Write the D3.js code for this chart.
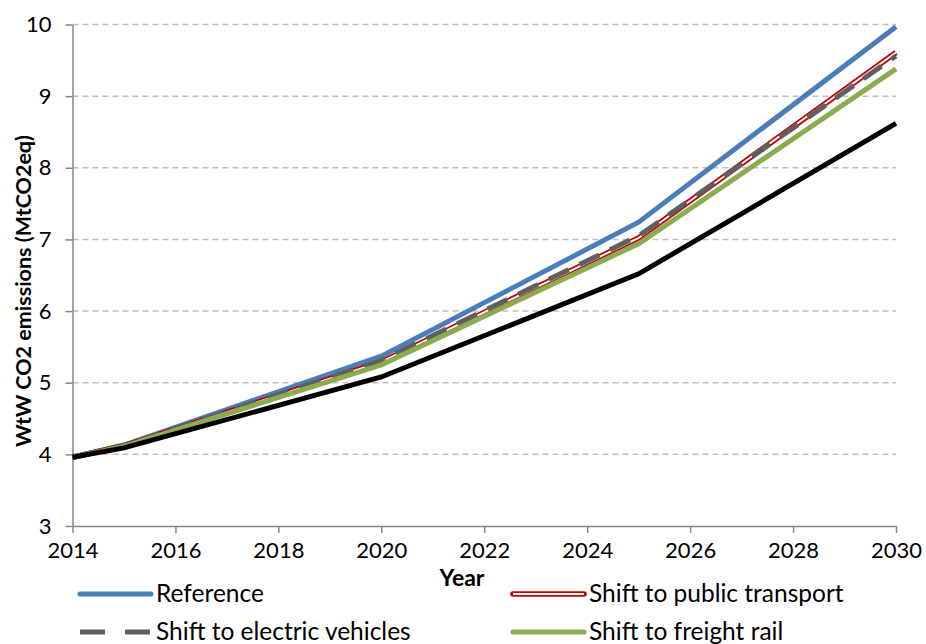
<!DOCTYPE html>
<html><head><meta charset="utf-8">
<script src="https://cdn.jsdelivr.net/npm/d3@7"></script>
<style>body{margin:0;background:#fff}svg{display:block}text{font-family:Lato,"Liberation Sans",sans-serif}</style>
</head><body><svg id="c" width="926" height="644"></svg>
<script>
const years = [2014, 2015, 2020, 2025, 2030];
const reference = [3.96, 4.13, 5.37, 7.24, 9.97];
const publicTransport = [3.96, 4.12, 5.29, 7.02, 9.61];
const electricVehicles = [3.96, 4.12, 5.31, 7.05, 9.56];
const freightRail = [3.96, 4.11, 5.25, 6.94, 9.38];
const combined = [3.96, 4.09, 5.08, 6.52, 8.62];
const xTicks = [2014, 2016, 2018, 2020, 2022, 2024, 2026, 2028, 2030];
const yTicks = [3, 4, 5, 6, 7, 8, 9, 10];
const legendLabels = ["Reference", "Shift to public transport", "Shift to electric vehicles", "Shift to freight rail"];

const svg = d3.select("#c");
const x = d3.scaleLinear().domain([2014, 2030]).range([72.5, 896]);
const y = d3.scaleLinear().domain([3, 10]).range([526, 24.5]);

// gridlines
svg.append("g").selectAll("line").data(yTicks.filter(d => d > 3)).join("line")
  .attr("x1", x(2014)).attr("x2", x(2030)).attr("y1", d => y(d)).attr("y2", d => y(d))
  .attr("stroke", "#bfbfbf").attr("stroke-width", 1.5).attr("stroke-dasharray", "6,4");

// axes
const xAxis = svg.append("g").attr("transform", `translate(0,${y(3)})`)
  .call(d3.axisBottom(x).tickValues(xTicks).tickFormat(d3.format("d")).tickSizeInner(7).tickSizeOuter(0).tickPadding(9));
const yAxis = svg.append("g").attr("transform", `translate(${x(2014)},0)`)
  .call(d3.axisLeft(y).tickValues(yTicks).tickFormat(d3.format("d")).tickSizeInner(7).tickSizeOuter(0).tickPadding(14));
[xAxis, yAxis].forEach(a => {
  a.selectAll("path,line").attr("stroke", "#868686").attr("stroke-width", 1.5);
  a.selectAll("text").attr("font-size", 22).attr("fill", "#000");
});

const line = d3.line().x((d, i) => x(years[i])).y(d => y(d));

svg.append("path").datum(reference).attr("d", line).attr("fill", "none").attr("stroke", "#4a7ebb").attr("stroke-width", 5);
svg.append("path").datum(publicTransport).attr("d", line).attr("fill", "none").attr("stroke", "#c00000").attr("stroke-width", 5.5);
svg.append("path").datum(publicTransport).attr("d", line).attr("fill", "none").attr("stroke", "#fff").attr("stroke-width", 2);
svg.append("path").datum(electricVehicles).attr("d", line).attr("fill", "none").attr("stroke", "#5f5f5f").attr("stroke-width", 5).attr("stroke-dasharray", "22,12");
svg.append("path").datum(freightRail).attr("d", line).attr("fill", "none").attr("stroke", "#8bac4e").attr("stroke-width", 5);
svg.append("path").datum(combined).attr("d", line).attr("fill", "none").attr("stroke", "#000").attr("stroke-width", 5);

// axis titles
svg.append("text").attr("x", 462).attr("y", 586).attr("text-anchor", "middle").attr("font-size", 23).attr("font-weight", "bold").text("Year");
svg.append("text").attr("transform", "translate(31,291) rotate(-90)").attr("text-anchor", "middle").attr("font-size", 21.5).attr("font-weight", "bold").text("WtW CO2 emissions (MtCO2eq)");

// legend
const leg = [
  {x: 80, y: 594, label: legendLabels[0], type: "ref"},
  {x: 513, y: 594, label: legendLabels[1], type: "pt"},
  {x: 80, y: 632, label: legendLabels[2], type: "ev"},
  {x: 513, y: 632, label: legendLabels[3], type: "fr"}
];
leg.forEach(l => {
  const g = svg.append("g");
  const seg = (stroke, w, dash) => g.append("line").attr("x1", l.x).attr("x2", l.x + 71).attr("y1", l.y).attr("y2", l.y)
    .attr("stroke", stroke).attr("stroke-width", w).attr("stroke-dasharray", dash || null).attr("stroke-linecap", dash ? "butt" : "round");
  if (l.type === "ref") seg("#4a7ebb", 5);
  if (l.type === "pt") { seg("#c00000", 5.5); g.append("line").attr("x1", l.x).attr("x2", l.x + 71).attr("y1", l.y).attr("y2", l.y).attr("stroke", "#fff").attr("stroke-width", 2); }
  if (l.type === "ev") seg("#5f5f5f", 5, "25,20");
  if (l.type === "fr") seg("#8bac4e", 5);
  g.append("text").attr("x", l.x + 76).attr("y", l.y + 8).attr("font-size", 24.5).text(l.label);
});
</script></body></html>
